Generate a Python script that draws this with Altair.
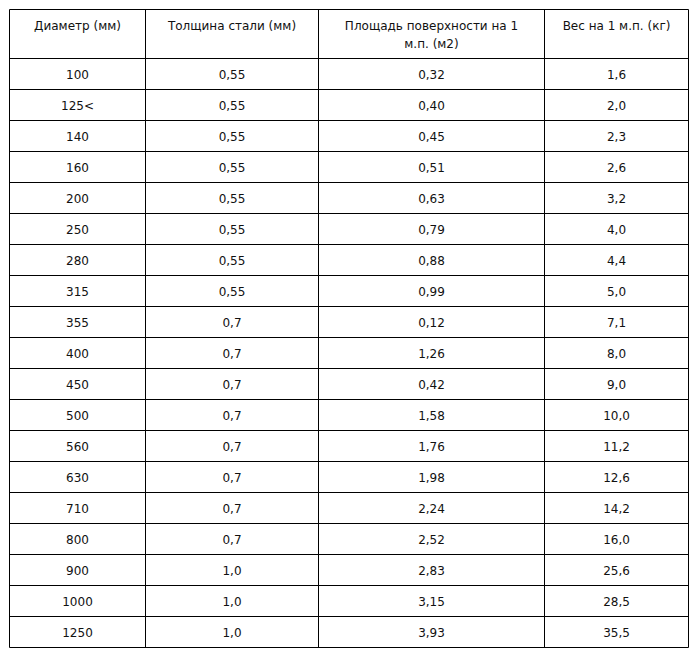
import altair as alt
import pandas as pd

# ---- data ----
headers = [
    ["Диаметр (мм)"],
    ["Толщина стали (мм)"],
    ["Площадь поверхности на 1", "м.п. (м2)"],
    ["Вес на 1 м.п. (кг)"],
]
diameter = ["100", "125<", "140", "160", "200", "250", "280", "315", "355", "400",
            "450", "500", "560", "630", "710", "800", "900", "1000", "1250"]
thickness = ["0,55", "0,55", "0,55", "0,55", "0,55", "0,55", "0,55", "0,55", "0,7", "0,7",
             "0,7", "0,7", "0,7", "0,7", "0,7", "0,7", "1,0", "1,0", "1,0"]
area = ["0,32", "0,40", "0,45", "0,51", "0,63", "0,79", "0,88", "0,99", "0,12", "1,26",
        "0,42", "1,58", "1,76", "1,98", "2,24", "2,52", "2,83", "3,15", "3,93"]
weight = ["1,6", "2,0", "2,3", "2,6", "3,2", "4,0", "4,4", "5,0", "7,1", "8,0",
          "9,0", "10,0", "11,2", "12,6", "14,2", "16,0", "25,6", "28,5", "35,5"]
columns = [diameter, thickness, area, weight]

# ---- layout (table geometry) ----
W, H = 681, 643
col_widths = [136, 173, 226, 144]
x0, y0 = 1.5, 1.5
header_h = 49
row_h = 31
line1_y, line_gap = 18, 18

col_edges = [x0]
for w in col_widths:
    col_edges.append(col_edges[-1] + w)
n_rows = len(diameter)
row_edges = [y0, y0 + header_h] + [y0 + header_h + row_h * (k + 1) for k in range(n_rows)]

cells = []
for ci, col in enumerate(columns):
    cx = (col_edges[ci] + col_edges[ci + 1]) / 2
    for li, line in enumerate(headers[ci]):
        cells.append({"x": cx, "y": line1_y + li * line_gap, "t": line})
    for ri, val in enumerate(col):
        cy = row_edges[ri + 1] + row_h / 2 + 0.5
        cells.append({"x": cx, "y": cy, "t": val})
cells_df = pd.DataFrame(cells)

vlines = pd.DataFrame({"x": col_edges, "y": [row_edges[0]] * len(col_edges),
                       "y2": [row_edges[-1]] * len(col_edges)})
hlines = pd.DataFrame({"y": row_edges, "x": [col_edges[0]] * len(row_edges),
                       "x2": [col_edges[-1]] * len(row_edges)})

xs = alt.Scale(domain=[0, W], nice=False, zero=False)
ys = alt.Scale(domain=[H, 0], nice=False, zero=False)

text = alt.Chart(cells_df).mark_text(
    font="DejaVu Sans", fontSize=12, color="#111111", baseline="middle", align="center"
).encode(
    x=alt.X("x:Q", scale=xs, axis=None),
    y=alt.Y("y:Q", scale=ys, axis=None),
    text="t:N",
)

v = alt.Chart(vlines).mark_rule(color="#000000", strokeWidth=1).encode(
    x=alt.X("x:Q", scale=xs, axis=None),
    y=alt.Y("y:Q", scale=ys, axis=None),
    y2="y2:Q",
)
h = alt.Chart(hlines).mark_rule(color="#000000", strokeWidth=1).encode(
    y=alt.Y("y:Q", scale=ys, axis=None),
    x=alt.X("x:Q", scale=xs, axis=None),
    x2="x2:Q",
)

chart = alt.layer(v, h, text).properties(
    width=W, height=H, padding=0, autosize="none", background="#ffffff"
).configure_view(stroke=None)

chart.save("out.html", embed_options={"renderer": "svg", "actions": False})
